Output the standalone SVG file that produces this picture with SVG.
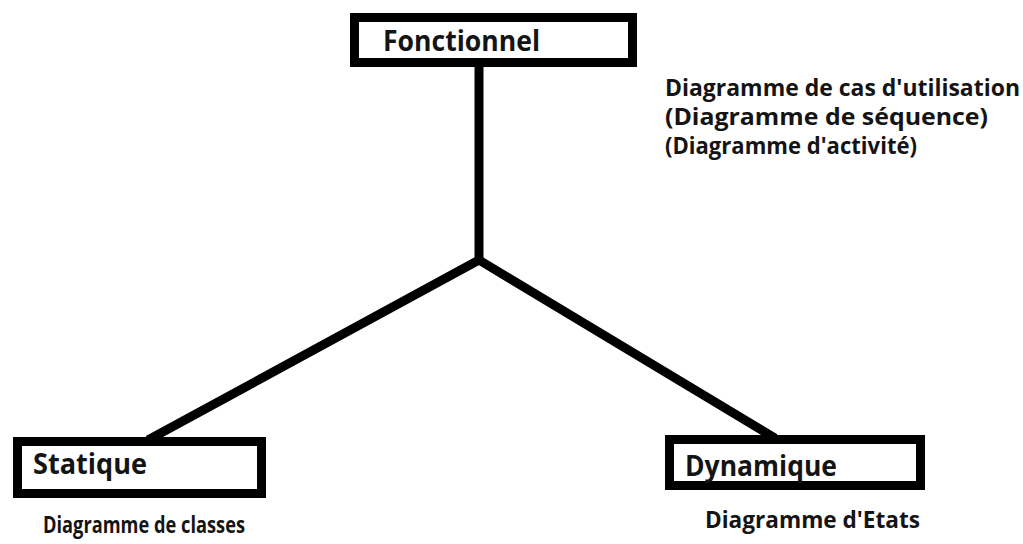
<svg xmlns="http://www.w3.org/2000/svg" width="1023" height="544" viewBox="0 0 1023 544">
  <style>
    .box { fill: #ffffff; stroke: #000000; stroke-width: 9; }
    .title { font-family: "Open Sans", "Liberation Sans", sans-serif; font-weight: 700; font-size: 29px; fill: #141414; }
    .note { font-family: "Open Sans", "Liberation Sans", sans-serif; font-weight: 700; font-size: 23px; fill: #141414; }
    .link { fill: none; stroke: #000000; stroke-width: 9; stroke-linecap: butt; stroke-linejoin: miter; }
  </style>
  <rect width="1023" height="544" fill="#ffffff"/>

  <!-- connectors: trunk from Fonctionnel splitting towards Statique and Dynamique -->
  <g id="connectors">
    <path class="link" d="M479 67 L479 260"/>
    <path class="link" d="M479 260 L148 440"/>
    <path class="link" d="M479 260 L775 438"/>
  </g>

  <g id="fonctionnel">
    <rect class="box" x="354.5" y="17.5" width="278" height="45"/>
    <text class="title" x="383" y="51" textLength="157" lengthAdjust="spacingAndGlyphs">Fonctionnel</text>
    <text class="note" x="665" y="96" textLength="355" lengthAdjust="spacingAndGlyphs">Diagramme de cas d'utilisation</text>
    <text class="note" x="665" y="125" textLength="323" lengthAdjust="spacingAndGlyphs">(Diagramme de séquence)</text>
    <text class="note" x="665" y="154" textLength="252" lengthAdjust="spacingAndGlyphs">(Diagramme d'activité)</text>
  </g>

  <g id="statique">
    <rect class="box" x="17.5" y="441.5" width="244" height="52"/>
    <text class="title" x="33" y="474" textLength="114" lengthAdjust="spacingAndGlyphs">Statique</text>
    <text class="note" x="43" y="533" textLength="202" lengthAdjust="spacingAndGlyphs">Diagramme de classes</text>
  </g>

  <g id="dynamique">
    <rect class="box" x="669.5" y="439.5" width="251" height="46"/>
    <text class="title" x="685" y="476" textLength="152" lengthAdjust="spacingAndGlyphs">Dynamique</text>
    <text class="note" x="705" y="528" textLength="215" lengthAdjust="spacingAndGlyphs">Diagramme d'Etats</text>
  </g>
</svg>
